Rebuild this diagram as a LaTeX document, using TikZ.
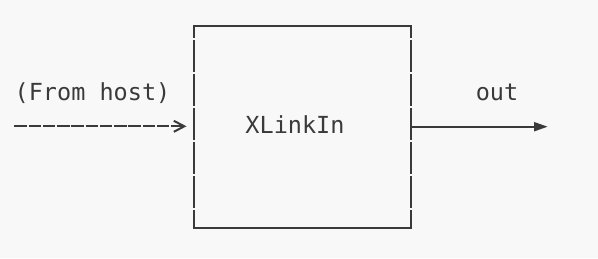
\documentclass[tikz,border=0pt]{standalone}
\usepackage{fontspec}
\newfontfamily\mono{DejaVu Sans Mono}
\usetikzlibrary{arrows.meta}
\definecolor{bg}{HTML}{F8F8F8}
\definecolor{ink}{HTML}{3A3A3A}
\begin{document}
\begin{tikzpicture}[x=1pt,y=-1pt,
  lbl/.style={font=\mono\fontsize{23.5}{28}\selectfont, text=ink, inner sep=0pt, anchor=base},
  border/.style={draw=ink, line width=2pt, line cap=rect},
  side/.style={draw=ink, line width=2pt, dash pattern=on 32pt off 2pt, dash phase=20pt},
  conn/.style={draw=ink, line width=2pt}]
\fill[bg] (0,0) rectangle (598,258);
\useasboundingbox (0,0) rectangle (598,258);
\node[minimum width=216.7pt, minimum height=202.3pt, inner sep=0pt, outer sep=0pt] (box) at (302.65,127.15) {};
\node[lbl] (title) at (295,133) {XLinkIn};
\draw[border] (box.north west) -- (box.north east);
\draw[border] (box.south west) -- (box.south east);
\draw[side] (box.north west) -- (box.south west);
\draw[side] (box.north east) -- (box.south east);
\node[lbl] (from) at (92.5,100) {(From host)};
\node[lbl] (outlbl) at (497,100) {out};
\coordinate (src) at (14.3,126.3);
\coordinate (dst) at (547.7,126.7);
\draw[conn, dash pattern=on 12.5pt off 1.75pt, -{Straight Barb[length=10.5pt,width=11pt]}, shorten >=7.8pt] (src) -- (src -| box.west);
\draw[conn, -{Triangle[length=13.7pt,width=9pt]}] (box.east |- dst) -- (dst);
\end{tikzpicture}
\end{document}
